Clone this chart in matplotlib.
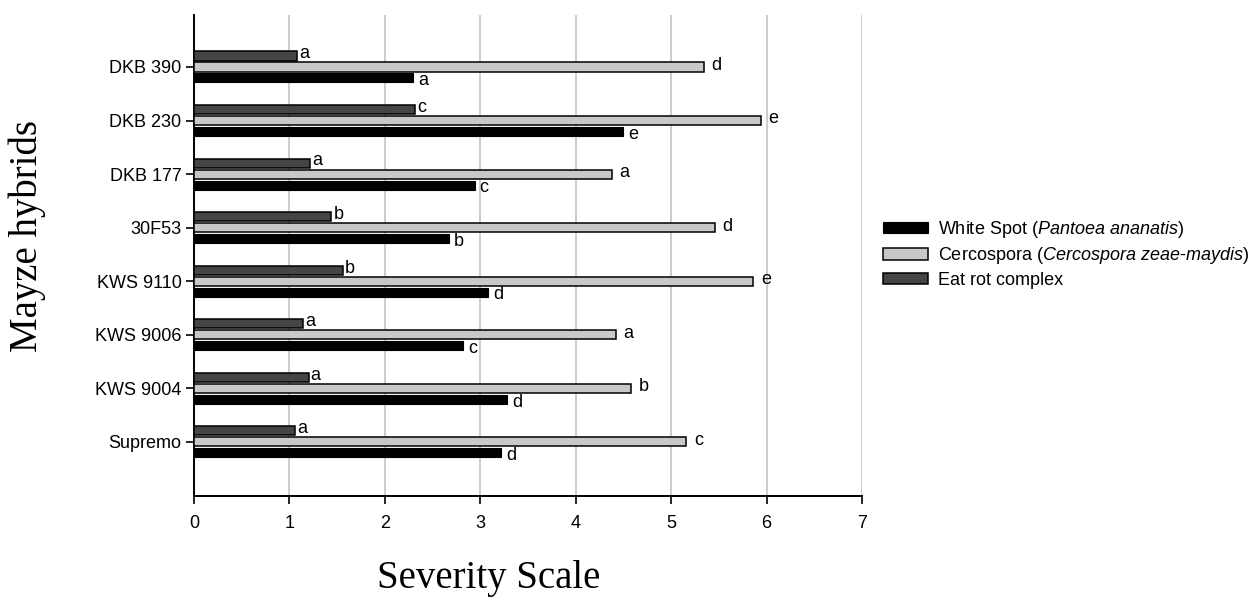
import numpy as np
import matplotlib
matplotlib.use("Agg")
import matplotlib.pyplot as plt
from matplotlib.patches import Patch

plt.rcParams['font.family'] = ['Liberation Sans', 'DejaVu Sans']
plt.rcParams['mathtext.fontset'] = 'custom'
plt.rcParams['mathtext.rm'] = 'Liberation Sans'
plt.rcParams['mathtext.it'] = 'Liberation Sans:italic'

# data, bottom to top
hybrids = ['Supremo', 'KWS 9004', 'KWS 9006', 'KWS 9110', '30F53', 'DKB 177', 'DKB 230', 'DKB 390']
white_spot = [3.22, 3.28, 2.82, 3.08, 2.67, 2.94, 4.50, 2.30]
cercospora = [5.16, 4.58, 4.42, 5.86, 5.46, 4.38, 5.94, 5.34]
eat_rot = [1.06, 1.20, 1.14, 1.56, 1.44, 1.22, 2.32, 1.08]
white_letters = ['d', 'd', 'c', 'd', 'b', 'c', 'e', 'a']
cerco_letters = ['c', 'b', 'a', 'e', 'd', 'a', 'e', 'd']
eat_letters = ['a', 'a', 'a', 'b', 'b', 'a', 'c', 'a']

fig = plt.figure(figsize=(12.54, 6.0), dpi=100)
ax = fig.add_axes([0.1547, 0.1733, 0.5327, 0.8017])

y = np.arange(len(hybrids))
h = 0.17
off = 0.205
ax.barh(y - off, white_spot, height=h, color='black', edgecolor='black', linewidth=0.8, zorder=3)
ax.barh(y, cercospora, height=h, color='#c8c8c8', edgecolor='black', linewidth=1.1, zorder=3)
ax.barh(y + off, eat_rot, height=h, color='#454545', edgecolor='black', linewidth=1.1, zorder=3)

for i in range(len(hybrids)):
    ax.annotate(white_letters[i], (white_spot[i], y[i] - off - 0.05), xytext=(3.5, 0),
                textcoords='offset points', va='center', ha='left', fontsize=13)
    ax.annotate(cerco_letters[i], (cercospora[i], y[i] + 0.03), xytext=(5.5, 0),
                textcoords='offset points', va='center', ha='left', fontsize=13)
    ax.annotate(eat_letters[i], (eat_rot[i], y[i] + off + 0.04), xytext=(1.5, 0),
                textcoords='offset points', va='center', ha='left', fontsize=13)

ax.set_xlim(0, 7)
ax.set_ylim(-1.01, 7.97)
ax.set_xticks(range(8))
ax.set_yticks(y)
ax.set_yticklabels(hybrids)
ax.tick_params(axis='both', labelsize=13, length=6, width=1.2, direction='out')
ax.tick_params(axis='x', pad=8)
ax.tick_params(axis='y', pad=3)
ax.grid(axis='x', color='#c4c4c4', linewidth=1.2, zorder=0)
ax.set_axisbelow(True)
for s in ['top', 'right']:
    ax.spines[s].set_visible(False)
for s in ['left', 'bottom']:
    ax.spines[s].set_linewidth(1.4)

fig.text(0.390, 0.036, 'Severity Scale', family='Liberation Serif', fontsize=28,
         ha='center', va='center')
fig.text(0.022, 0.607, 'Mayze hybrids', family='Liberation Serif', fontsize=28,
         rotation=90, ha='center', va='center')

handles = [
    Patch(facecolor='black', edgecolor='black', linewidth=0.8),
    Patch(facecolor='#c8c8c8', edgecolor='black', linewidth=1.1),
    Patch(facecolor='#454545', edgecolor='black', linewidth=1.1),
]
labels = [r'White Spot ($\it{Pantoea\ ananatis}$)',
          r'Cercospora ($\it{Cercospora\ zeae}$-$\it{maydis}$)',
          'Eat rot complex']
fig.legend(handles, labels, loc='upper left', bbox_to_anchor=(883 / 1254, 1 - 219 / 600),
           frameon=False, fontsize=13, handlelength=2.5, handleheight=0.6,
           handletextpad=0.55, labelspacing=0.3, borderpad=0, borderaxespad=0)

fig.savefig('out.png', dpi=100)
